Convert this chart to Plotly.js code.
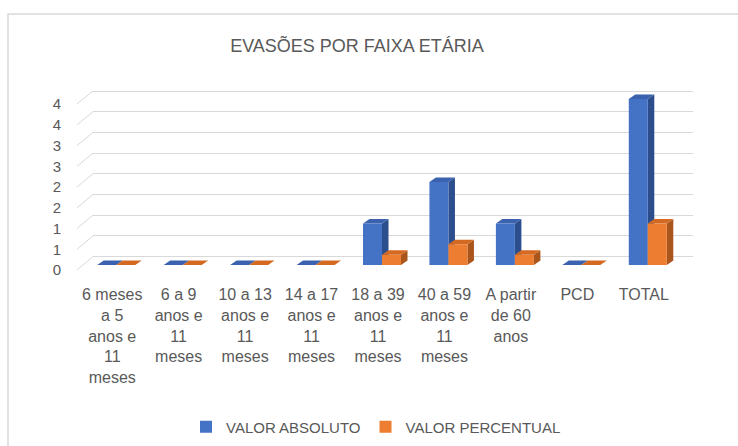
<!DOCTYPE html>
<html>
<head>
<meta charset="utf-8">
<script src="https://cdn.plot.ly/plotly-3.0.1.min.js"></script>
<style>html,body{margin:0;padding:0;background:#fff;}#chart{width:738px;height:446px;}</style>
</head>
<body>
<div id="chart"></div>
<script>
// ---- data ----
const categories = [
  "6 meses<br>a 5<br>anos e<br>11<br>meses",
  "6 a 9<br>anos e<br>11<br>meses",
  "10 a 13<br>anos e<br>11<br>meses",
  "14 a 17<br>anos e<br>11<br>meses",
  "18 a 39<br>anos e<br>11<br>meses",
  "40 a 59<br>anos e<br>11<br>meses",
  "A partir<br>de 60<br>anos",
  "PCD",
  "TOTAL"
];
const valorAbsoluto   = [0, 0, 0, 0, 1, 2, 1, 0, 4];
const valorPercentual = [0, 0, 0, 0, 0.25, 0.5, 0.25, 0, 1];
const yTickVals   = [0, 0.5, 1, 1.5, 2, 2.5, 3, 3.5, 4];
const yTickLabels = ["0", "1", "1", "2", "2", "3", "3", "4", "4"];
const seriesNames = ["VALOR ABSOLUTO", "VALOR PERCENTUAL"];

// ---- layout helpers ----
const W = 738, H = 446;
const px = p => p / W;
const py = p => 1 - p / H;
const FONT = "Liberation Sans, Arial, sans-serif";
const TXT = "#595959";

const xIdx = categories.map((_, i) => i);
const barW = 0.286;
const depthX = 0.098, depthY = 0.108;

const colors = {
  front: ["#4472C4", "#ED7D31"],
  top:   ["#3A62AE", "#D46A22"],
  side:  ["#2D4E8C", "#A9551B"]
};

const traces = [
  {x: [0.5], y: [0], xaxis: "x", yaxis: "y", type: "scatter", mode: "markers",
   marker: {opacity: 0}, showlegend: false, hoverinfo: "skip"},
  {x: xIdx, y: valorAbsoluto, name: seriesNames[0], type: "bar", xaxis: "x2", yaxis: "y2",
   width: barW, offset: -barW, marker: {color: colors.front[0]}},
  {x: xIdx, y: valorPercentual, name: seriesNames[1], type: "bar", xaxis: "x2", yaxis: "y2",
   width: barW, offset: 0, marker: {color: colors.front[1]}},
  {x: [0], y: [0], xaxis: "x3", yaxis: "y3", type: "scatter", mode: "markers",
   marker: {opacity: 0}, showlegend: false, hoverinfo: "skip"}
];

const shapes = [];
const series = [valorAbsoluto, valorPercentual];
for (let j = 0; j < xIdx.length; j++) {
  for (let s = 0; s < 2; s++) {
    const v = series[s][j];
    const xL = xIdx[j] + (s === 0 ? -barW : 0);
    const xR = xL + barW;
    if (v > 0) {
      shapes.push({type: "path", xref: "x2", yref: "y2", layer: "below",
        path: `M${xR},0 L${xR},${v} L${xR + depthX},${v + depthY} L${xR + depthX},${depthY} Z`,
        fillcolor: colors.side[s], line: {width: 0}});
    }
    shapes.push({type: "path", xref: "x2", yref: "y2", layer: "below",
      path: `M${xL},${v} L${xR},${v} L${xR + depthX},${v + depthY} L${xL + depthX},${v + depthY} Z`,
      fillcolor: colors.top[s], line: {width: 0}});
  }
}

// geometry (pixels)
const wall = {x0: 93, x1: 693, yb: 256.6, unit: 41.4};
const bars = {yb: 265, unit: 41.5};
const lab = {yb: 270, unit: 41.5};
const yWall = v => wall.yb - wall.unit * v;
const yLab  = v => lab.yb - lab.unit * v;
const wallMax = 4.15, barMax = 4.4;
yTickVals.forEach(v => {
  shapes.push({type: "line", xref: "paper", yref: "paper",
    x0: px(77), y0: py(yLab(v)), x1: px(wall.x0), y1: py(yWall(v)),
    line: {color: "#d9d9d9", width: 1}});
});

shapes.push({type: "rect", xref: "paper", yref: "paper",
  x0: px(8), y0: -0.2, x1: 1.2, y1: py(14),
  line: {color: "#d9d9d9", width: 1.5}, fillcolor: "rgba(0,0,0,0)"});

const layout = {
  width: W, height: H,
  margin: {l: 0, r: 0, t: 0, b: 0},
  paper_bgcolor: "#ffffff",
  plot_bgcolor: "rgba(0,0,0,0)",
  font: {family: FONT, color: TXT, size: 15},
  title: {text: "EVASÕES POR FAIXA ETÁRIA", x: px(357), xanchor: "center",
          y: py(46), yanchor: "middle", yref: "paper",
          font: {family: FONT, size: 18, color: TXT}},
  barmode: "overlay",
  showlegend: true,
  legend: {orientation: "h", x: px(376), xanchor: "center", y: py(427), yanchor: "middle",
           font: {family: FONT, size: 15, color: TXT}, itemclick: false, bgcolor: "rgba(0,0,0,0)"},
  xaxis: {domain: [px(wall.x0), px(wall.x1)], range: [0, 1], visible: false, fixedrange: true},
  yaxis: {domain: [py(wall.yb), py(yWall(wallMax))], range: [0, wallMax], tickvals: yTickVals,
          showticklabels: false, showgrid: true, gridcolor: "#d9d9d9", gridwidth: 1,
          zeroline: true, zerolinecolor: "#d9d9d9", zerolinewidth: 1, showline: false, ticks: "",
          fixedrange: true},
  xaxis2: {domain: [px(83), px(681)], range: [-0.5, 8.5], anchor: "y2",
           tickvals: xIdx, ticktext: categories, tickangle: 0, ticks: "",
           showgrid: false, zeroline: false, showline: false,
           tickfont: {family: FONT, size: 16, color: TXT}, ticklabelshift: -4,
           ticklabelstandoff: 18, fixedrange: true},
  yaxis2: {domain: [py(bars.yb), py(bars.yb - bars.unit * barMax)], range: [0, barMax],
           anchor: "x2", visible: false, fixedrange: true},
  xaxis3: {domain: [px(62), px(80)], range: [0, 1], anchor: "y3", visible: false, fixedrange: true},
  yaxis3: {domain: [py(lab.yb), py(yLab(4))], range: [0, 4], anchor: "x3",
           tickvals: yTickVals, ticktext: yTickLabels, ticks: "",
           showgrid: false, zeroline: false, showline: false,
           tickfont: {family: FONT, size: 15, color: TXT}, fixedrange: true},
  shapes: shapes
};

Plotly.newPlot("chart", traces, layout, {staticPlot: true, displayModeBar: false});
</script>
</body>
</html>
